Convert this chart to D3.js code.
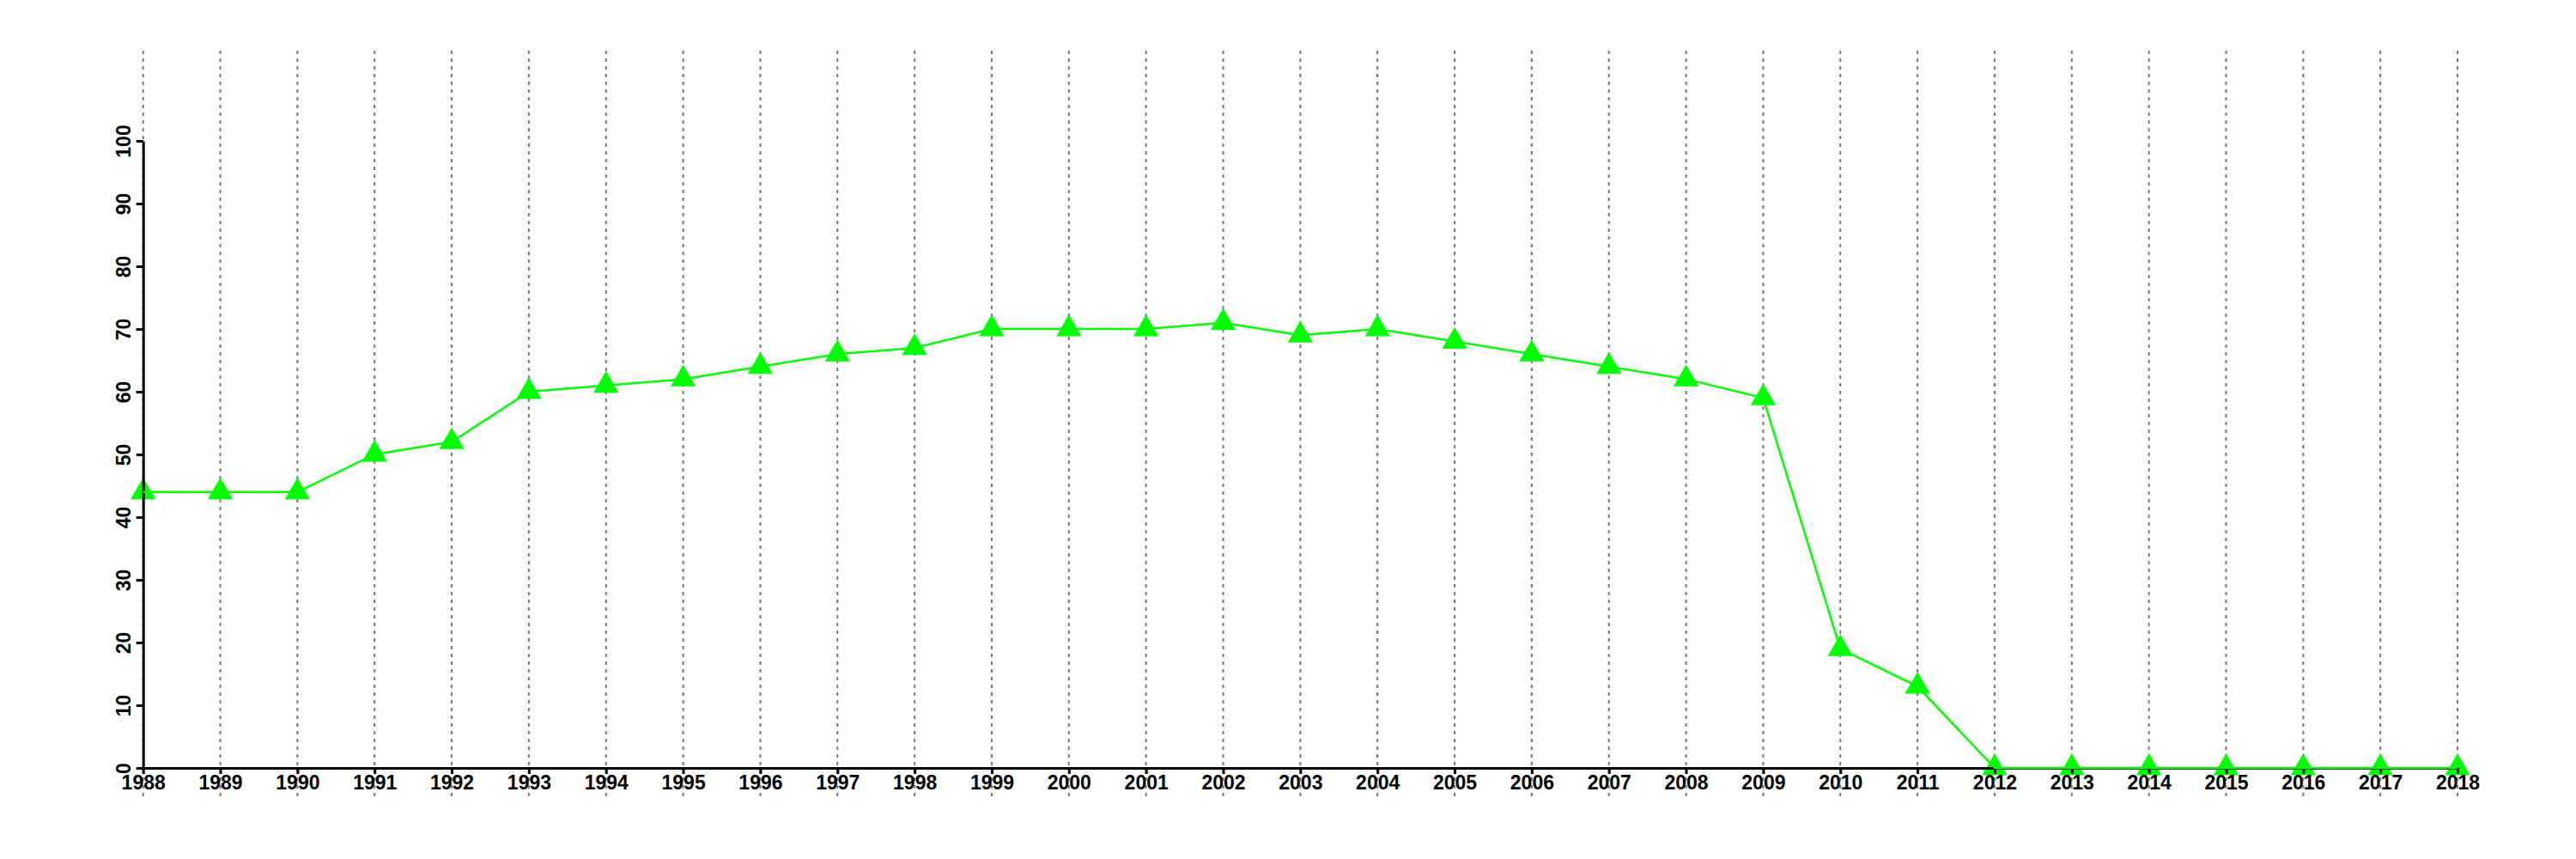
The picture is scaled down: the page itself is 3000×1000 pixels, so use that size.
<!DOCTYPE html>
<html>
<head>
<meta charset="utf-8">
<script src="https://cdn.jsdelivr.net/npm/d3@7"></script>
<style>
  html, body { margin: 0; padding: 0; background: #fff; }
  svg { display: block; }
  text { font-family: "Liberation Sans", Arial, Helvetica, sans-serif; font-weight: bold; }
</style>
</head>
<body>
<script>
const years = [1988,1989,1990,1991,1992,1993,1994,1995,1996,1997,1998,1999,2000,2001,2002,2003,2004,2005,2006,2007,2008,2009,2010,2011,2012,2013,2014,2015,2016,2017,2018];
const values = [44,44,44,50,52,60,61,62,64,66,67,70,70,70,71,69,70,68,66,64,62,59,19,13,0,0,0,0,0,0,0];
const yTicks = [0,10,20,30,40,50,60,70,80,90,100];

const W = 3000, H = 1000;
const svg = d3.select("body").append("svg").attr("width", W).attr("height", H);

const x = d3.scaleLinear().domain([1988, 2018]).range([166.7, 2862]);
const y = d3.scaleLinear().domain([0, 100]).range([894, 164]);

// vertical dotted gridlines
svg.append("g").selectAll("line").data(years).join("line")
  .attr("x1", d => x(d)).attr("x2", d => x(d))
  .attr("y1", 59).attr("y2", 928)
  .attr("stroke", "#777").attr("stroke-width", 2)
  .attr("stroke-dasharray", "4,5");

const data = years.map((yr, i) => ({yr, v: values[i]}));

// triangles
svg.append("g").selectAll("path").data(data).join("path")
  .attr("transform", d => `translate(${x(d.yr)},${y(d.v)})`)
  .attr("d", d3.symbol().type(d3.symbolTriangle).size(370))
  .attr("fill", "#00ff00");

// y axis
const yAxis = svg.append("g").attr("transform", `translate(${x(1988)},0)`)
  .call(d3.axisLeft(y).tickValues(yTicks).tickSize(8).tickSizeOuter(0).tickFormat(d3.format("d")));
yAxis.select(".domain").attr("stroke", "#000").attr("stroke-width", 3);
yAxis.selectAll(".tick line").attr("stroke", "#000").attr("stroke-width", 3);
yAxis.selectAll(".tick text")
  .attr("font-size", 23).attr("fill", "#000")
  .attr("x", 0).attr("y", 0).attr("dy", 0)
  .attr("text-anchor", "middle")
  .attr("transform", "translate(-15,0) rotate(-90)");

// x axis
const xAxis = svg.append("g").attr("transform", `translate(0,${y(0)})`)
  .call(d3.axisBottom(x).tickValues(years).tickSize(7).tickSizeOuter(0).tickFormat(d3.format("d")));
xAxis.select(".domain").attr("stroke", "#000").attr("stroke-width", 3);
xAxis.selectAll(".tick line").attr("stroke", "#000").attr("stroke-width", 3);
xAxis.selectAll(".tick text")
  .attr("font-size", 23).attr("fill", "#000")
  .attr("y", 25).attr("dy", 0);

// line
svg.append("path").datum(data)
  .attr("fill", "none").attr("stroke", "#00ff00").attr("stroke-width", 2.5)
  .attr("d", d3.line().x(d => x(d.yr)).y(d => y(d.v)));
</script>
</body>
</html>
